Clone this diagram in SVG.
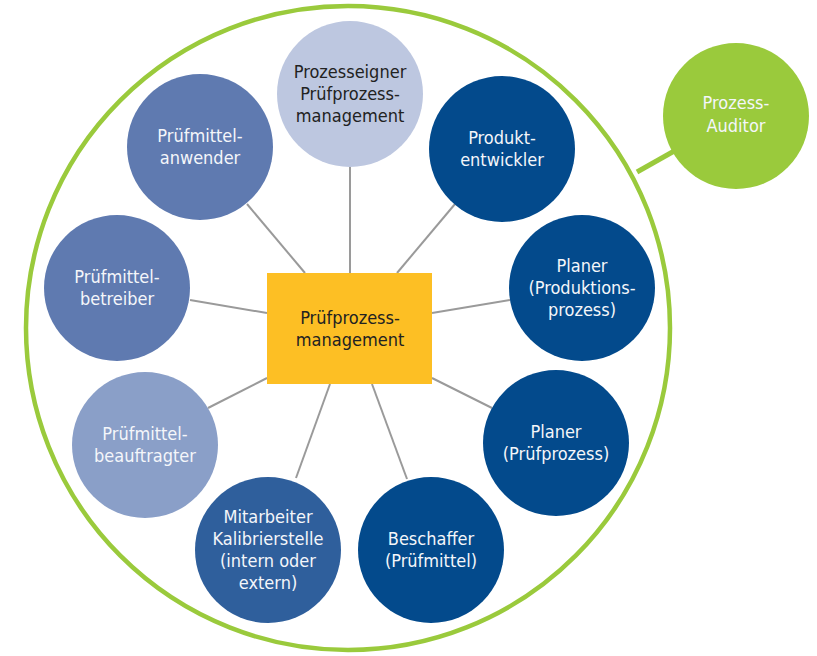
<svg xmlns="http://www.w3.org/2000/svg" width="817" height="656" viewBox="0 0 817 656">
<style>
.t{font-family:"Liberation Sans Narrow","DejaVu Sans Condensed","Liberation Sans",sans-serif;font-size:18px;text-anchor:middle;}
.w{fill:#F4F6FA;}
.d{fill:#222222;}
.c1{fill:#5F7AB0;}
.c2{fill:#8A9FC8;}
.c3{fill:#2F5F9C;}
.c4{fill:#034A8C;}
.ln{stroke:#9A9A9A;stroke-width:2;fill:none;}
</style>
<rect width="817" height="656" fill="#FFFFFF"/>
<g id="frame">
<circle cx="348" cy="328" r="322" fill="none" stroke="#9ACA3C" stroke-width="4.5"/>
<line x1="637" y1="172" x2="676" y2="150" stroke="#9ACA3C" stroke-width="5"/>
</g>
<g id="connectors">
<line class="ln" x1="350" y1="167" x2="350" y2="273"/>
<line class="ln" x1="247" y1="204" x2="305" y2="273"/>
<line class="ln" x1="190" y1="300" x2="267" y2="313"/>
<line class="ln" x1="208" y1="408" x2="267" y2="378"/>
<line class="ln" x1="296" y1="478" x2="330" y2="384"/>
<line class="ln" x1="407" y1="479" x2="372" y2="384"/>
<line class="ln" x1="492" y1="408" x2="432" y2="378"/>
<line class="ln" x1="510" y1="300" x2="432" y2="313"/>
<line class="ln" x1="455" y1="204" x2="397" y2="273"/>
</g>
<g id="auditor">
<circle cx="736" cy="116" r="73" fill="#9ACA3C"/>
<text class="t w" x="736" y="109">Prozess-</text>
<text class="t w" x="736" y="132">Auditor</text>
</g>
<g id="center">
<rect x="267" y="273" width="165" height="111" fill="#FDBF24"/>
<text class="t d" x="350" y="324">Prüfprozess-</text>
<text class="t d" x="350" y="346">management</text>
</g>
<g id="prozesseigner">
<circle cx="350" cy="94" r="73" fill="#BDC7E0"/>
<text class="t d" x="350" y="78">Prozesseigner</text>
<text class="t d" x="350" y="100">Prüfprozess-</text>
<text class="t d" x="350" y="122">management</text>
</g>
<g id="anwender">
<circle class="c1" cx="200" cy="147" r="73"/>
<text class="t w" x="200" y="142">Prüfmittel-</text>
<text class="t w" x="200" y="164">anwender</text>
</g>
<g id="betreiber">
<circle class="c1" cx="117" cy="288" r="73"/>
<text class="t w" x="117" y="283">Prüfmittel-</text>
<text class="t w" x="117" y="305">betreiber</text>
</g>
<g id="beauftragter">
<circle class="c2" cx="145" cy="445" r="73"/>
<text class="t w" x="145" y="440">Prüfmittel-</text>
<text class="t w" x="145" y="462">beauftragter</text>
</g>
<g id="kalibrierstelle">
<circle class="c3" cx="268" cy="550" r="73"/>
<text class="t w" x="268" y="523">Mitarbeiter</text>
<text class="t w" x="268" y="545">Kalibrierstelle</text>
<text class="t w" x="268" y="567">(intern oder</text>
<text class="t w" x="268" y="589">extern)</text>
</g>
<g id="beschaffer">
<circle class="c4" cx="431" cy="550" r="73"/>
<text class="t w" x="431" y="545">Beschaffer</text>
<text class="t w" x="431" y="567">(Prüfmittel)</text>
</g>
<g id="planer-pruefprozess">
<circle class="c4" cx="556" cy="443" r="73"/>
<text class="t w" x="556" y="438">Planer</text>
<text class="t w" x="556" y="460">(Prüfprozess)</text>
</g>
<g id="planer-produktion">
<circle class="c4" cx="582" cy="288" r="73"/>
<text class="t w" x="582" y="272">Planer</text>
<text class="t w" x="582" y="294">(Produktions-</text>
<text class="t w" x="582" y="316">prozess)</text>
</g>
<g id="produktentwickler">
<circle class="c4" cx="502" cy="149" r="73"/>
<text class="t w" x="502" y="144">Produkt-</text>
<text class="t w" x="502" y="166">entwickler</text>
</g>
</svg>
